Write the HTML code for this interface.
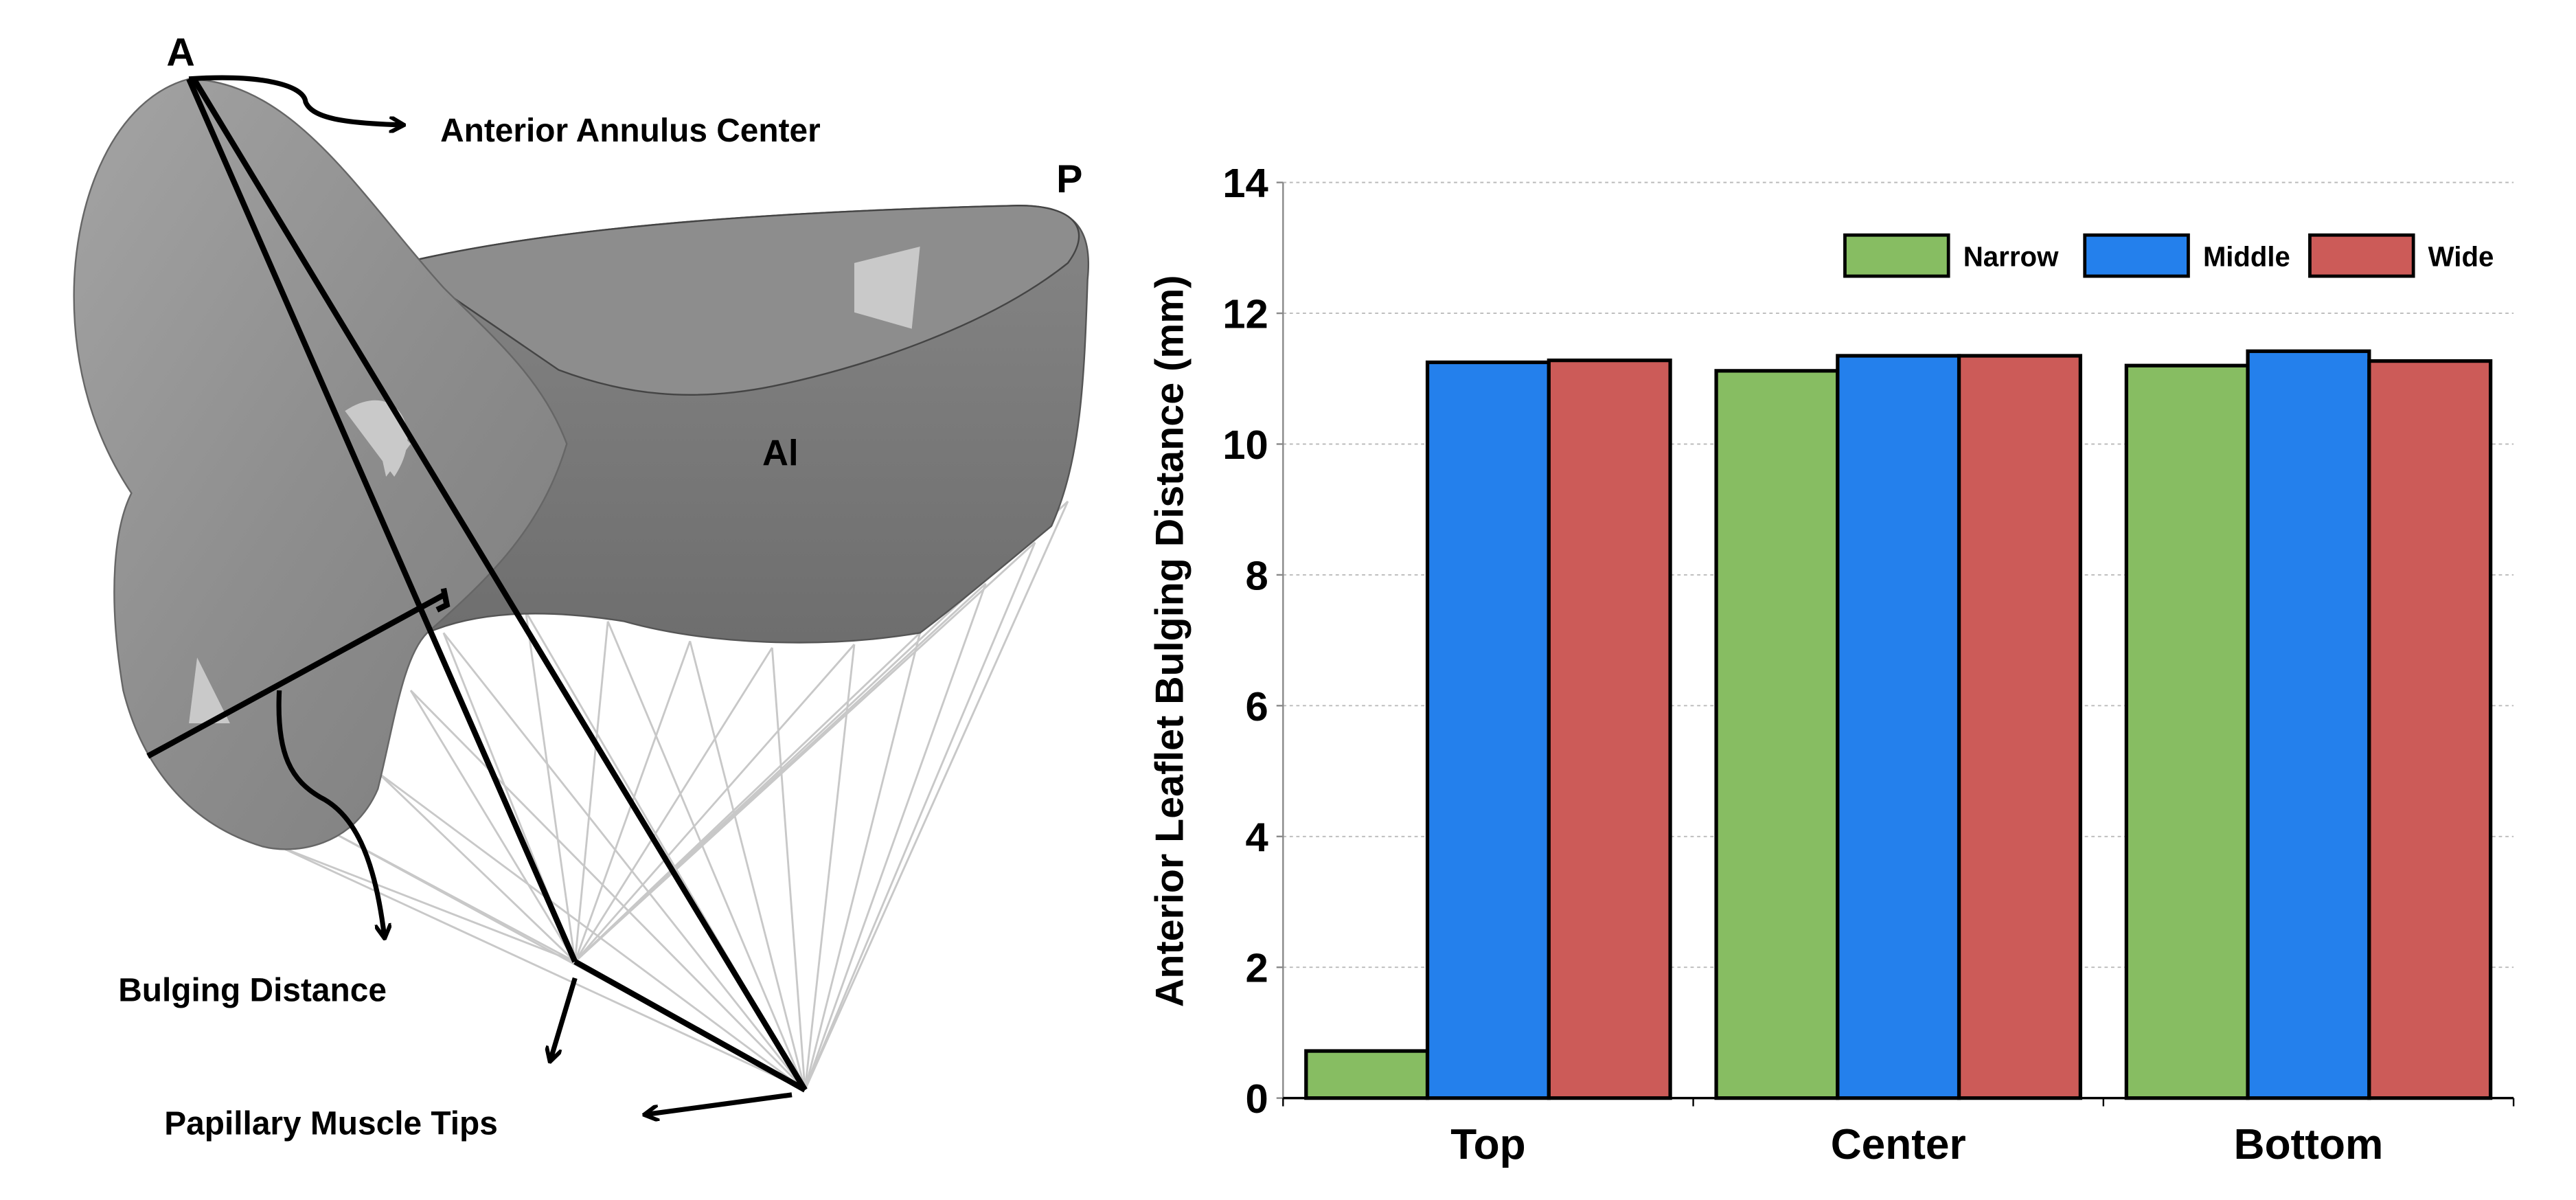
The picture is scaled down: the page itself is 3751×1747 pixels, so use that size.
<!DOCTYPE html>
<html><head><meta charset="utf-8"><style>
html,body{margin:0;padding:0;background:#fff;}
svg{display:block;}
text{font-family:"Liberation Sans",Arial,sans-serif;font-weight:bold;}
</style></head><body>
<svg id="root" width="3751" height="1747" viewBox="0 0 1568 730" preserveAspectRatio="none" xmlns="http://www.w3.org/2000/svg">
<defs>
<linearGradient id="gA" x1="0" y1="0" x2="1" y2="1"><stop offset="0" stop-color="#a4a4a4"/><stop offset="0.5" stop-color="#8e8e8e"/><stop offset="1" stop-color="#7c7c7c"/></linearGradient>
<linearGradient id="gP" x1="0" y1="0" x2="0" y2="1"><stop offset="0" stop-color="#858585"/><stop offset="1" stop-color="#6e6e6e"/></linearGradient>
<marker id="ah" markerWidth="10" markerHeight="10" refX="8" refY="5" orient="auto" markerUnits="userSpaceOnUse"><path d="M0,0 L9,5 L0,10" fill="none" stroke="#000" stroke-width="2.5"/></marker>
</defs>
<g id="valve">
<g id="chordae" stroke="#c8c8c8" stroke-width="1.2" fill="none"></g>
<path d="M245,160 C350,135 500,128 620,125 C655,125 665,140 662,170 C660,230 658,280 640,320 C610,345 580,370 560,385 C500,395 430,392 380,378 C330,370 290,372 260,385 L240,300 Z" fill="url(#gP)" stroke="#555" stroke-width="1"/>
<path d="M245,160 C350,135 500,128 620,125 C655,125 665,140 650,160 C600,200 520,225 470,235 C420,245 380,240 340,225 Z" fill="#8d8d8d" stroke="#444" stroke-width="1"/>
<path d="M115,48 C180,50 220,120 270,175 C300,205 330,230 345,270 C330,320 300,350 260,385 C245,400 240,440 230,480 C215,515 180,520 160,515 C110,500 85,460 75,420 C65,360 70,320 80,300 C60,270 45,230 45,180 C45,120 70,60 115,48 Z" fill="url(#gA)" stroke="#666" stroke-width="1"/>
<path d="M210,250 C240,230 260,260 240,290 Z M120,400 L140,440 L115,440 Z M520,160 L560,150 L555,200 L520,190 Z M225,245 L250,270 L235,290 Z" fill="#d8d8d8" opacity="0.8"/>
<g stroke="#000" stroke-width="3.5" fill="none">
<line x1="115" y1="48" x2="350" y2="585"/>
<line x1="118" y1="48" x2="490" y2="663"/>
<line x1="350" y1="585" x2="490" y2="663"/>
<line x1="270" y1="362" x2="90" y2="460"/>
<path d="M270,358 L272,368 L266,371"/>
<path d="M115,48 C160,45 185,52 186,62 C190,72 210,75 245,76" marker-end="url(#ah)" stroke-width="3"/>
<path d="M170,420 C168,460 178,475 195,485 C215,495 228,520 234,570" marker-end="url(#ah)" stroke-width="3"/>
<path d="M350,595 L335,645" marker-end="url(#ah)" stroke-width="3"/>
<path d="M482,666 L393,678" marker-end="url(#ah)" stroke-width="3"/>
</g>
<text x="110" y="40" font-size="24" text-anchor="middle">A</text>
<text x="268" y="86" font-size="20">Anterior Annulus Center</text>
<text x="651" y="117" font-size="24" text-anchor="middle">P</text>
<text x="475" y="283" font-size="22" text-anchor="middle">Al</text>
<text x="72" y="609" font-size="20">Bulging Distance</text>
<text x="100" y="690" font-size="20">Papillary Muscle Tips</text>
</g>
<g id="chart"></g>
</svg>
<script>
const categories = ["Top", "Center", "Bottom"];
const seriesNames = ["Narrow", "Middle", "Wide"];
const narrowValues = [0.72, 11.12, 11.2];
const middleValues = [11.25, 11.35, 11.42];
const wideValues = [11.28, 11.35, 11.27];
const yTicks = [0, 2, 4, 6, 8, 10, 12, 14];
const colors = ["#87bd62", "#2480ec", "#cc5b58"];

const NS = "http://www.w3.org/2000/svg";
function mk(tag, attrs, parent) {
  const e = document.createElementNS(NS, tag);
  for (const k in attrs) e.setAttribute(k, attrs[k]);
  parent.appendChild(e);
  return e;
}
const ch = document.getElementById("chordae");
const edge = [[170,515],[200,505],[230,470],[250,420],[270,385],[320,372],[370,378],[420,390],[470,394],[520,392],[560,385],[600,355],[630,330],[650,305]];
const tips = [[350,585],[490,663]];
edge.forEach(p => tips.forEach(t => {
  const l = mk("line", {x1:p[0], y1:p[1], x2:t[0], y2:t[1]}, ch);
  
  
}));

const chart = document.getElementById("chart");
const x0 = 781, x1 = 1530, yBase = 668, yTop = 111, vMax = 14;
function yScale(v) { return yBase - (v / vMax) * (yBase - yTop); }
const band = (x1 - x0) / categories.length;
function xCat(i) { return x0 + band * i; }
const groupPad = 14, barW = (band - 2 * groupPad) / 3;

yTicks.forEach(t => {
  const y = yScale(t);
  if (t > 0) {
    const g = mk("line", {x1:x0, y1:y, x2:x1, y2:y, stroke:"#bbb", "stroke-width":0.8, "stroke-dasharray":"2,2"}, chart);
    
    
  }
  const tk = mk("line", {x1:x0-4, y1:y, x2:x0, y2:y, stroke:"#888", "stroke-width":1}, chart);
  
  
  const tx = mk("text", {x:772, y:y+9, "font-size":25, "text-anchor":"end"}, chart);
  tx.textContent = t;
  
  
});
const ya = mk("line", {x1:x0, y1:yTop, x2:x0, y2:yBase, stroke:"#888", "stroke-width":1}, chart);



const all = [narrowValues, middleValues, wideValues];
categories.forEach((c, i) => {
  all.forEach((vals, s) => {
    const bx = xCat(i) + groupPad + s * barW;
    const by = yScale(vals[i]);
    const r = mk("rect", {x:bx, y:by, width:barW, height:yBase - by, fill:colors[s], stroke:"#000", "stroke-width":2.2}, chart);
    
    
  });
  const lb = mk("text", {x:xCat(i) + band / 2, y:705, "font-size":26, "text-anchor":"middle"}, chart);
  lb.textContent = c;
  
  
});
for (let i = 0; i <= categories.length; i++) {
  const t = mk("line", {x1:xCat(i), y1:yBase, x2:xCat(i), y2:yBase+5, stroke:"#000", "stroke-width":1}, chart);
  
  
}
const xa = mk("line", {x1:x0, y1:yBase, x2:x1, y2:yBase, stroke:"#000", "stroke-width":1.5}, chart);



const yt = mk("text", {x:0, y:0, "font-size":24, "text-anchor":"middle", transform:"translate(720,390) rotate(-90)"}, chart);
yt.textContent = "Anterior Leaflet Bulging Distance (mm)";



const legX = [1123, 1269, 1406];
const legW = [58, 53, 40];
seriesNames.forEach((n, s) => {
  const r = mk("rect", {x:legX[s], y:143, width:63, height:25, fill:colors[s], stroke:"#000", "stroke-width":2}, chart);
  
  
});
seriesNames.forEach((n, s) => {
  const t = mk("text", {x:legX[s] + 72, y:162, "font-size":17, textLength:legW[s], lengthAdjust:"spacingAndGlyphs"}, chart);
  t.textContent = n;
  
  
});
</script>
</body></html>
